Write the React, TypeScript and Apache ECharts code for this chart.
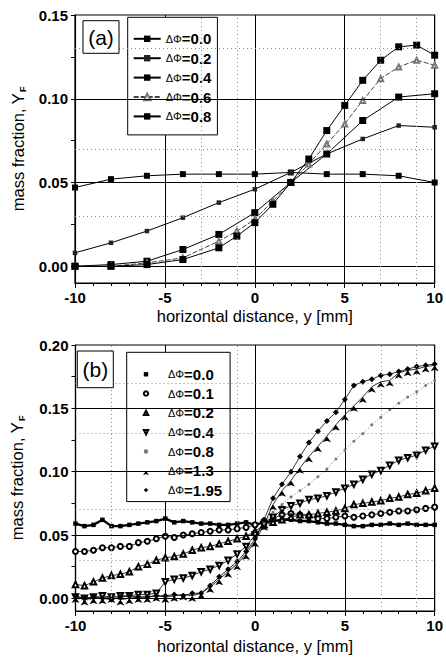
import React, { useEffect, useRef } from 'react';
import * as echarts from 'echarts';

// ---------- panel (a) ----------
const xA = [-10, -8, -6, -4, -2, 0, 2, 4, 6, 8, 10];
const xA2 = [-10, -8, -6, -4, -2, -1, 0, 1, 2, 3, 4, 5, 6, 7, 8, 9, 10];
const a00 = [0.047, 0.052, 0.054, 0.055, 0.055, 0.055, 0.056, 0.055, 0.055, 0.054, 0.050];
const a02 = [0.008, 0.014, 0.021, 0.029, 0.038, 0.046, 0.056, 0.067, 0.076, 0.084, 0.083];
const a04 = [0.000, 0.001, 0.003, 0.010, 0.019, 0.032, 0.050, 0.067, 0.087, 0.101, 0.103];
const a06 = [0.000, 0.000, 0.002, 0.005, 0.015, 0.021, 0.028, 0.039, 0.050, 0.061, 0.073, 0.085, 0.099, 0.112, 0.119, 0.123, 0.120];
const a08 = [0.000, 0.000, 0.001, 0.004, 0.011, 0.018, 0.026, 0.037, 0.050, 0.064, 0.081, 0.096, 0.111, 0.123, 0.131, 0.132, 0.126];
const labelsA = ['0.0', '0.2', '0.4', '0.6', '0.8'];

// ---------- panel (b) ----------
const xB = [-10, -9.5, -9, -8.5, -8, -7.5, -7, -6.5, -6, -5.5, -5, -4.5, -4, -3.5, -3, -2.5, -2, -1.5, -1, -0.5, 0, 0.5, 1, 1.5, 2, 2.5, 3, 3.5, 4, 4.5, 5, 5.5, 6, 6.5, 7, 7.5, 8, 8.5, 9, 9.5, 10];
const b00 = [0.059, 0.057, 0.058, 0.062, 0.057, 0.057, 0.058, 0.059, 0.060, 0.061, 0.063, 0.060, 0.061, 0.060, 0.059, 0.059, 0.058, 0.058, 0.059, 0.060, 0.058, 0.060, 0.061, 0.062, 0.062, 0.061, 0.061, 0.060, 0.059, 0.059, 0.058, 0.057, 0.057, 0.058, 0.058, 0.059, 0.058, 0.059, 0.058, 0.058, 0.058];
const b01 = [0.037, 0.037, 0.038, 0.040, 0.040, 0.041, 0.041, 0.044, 0.045, 0.047, 0.049, 0.048, 0.050, 0.051, 0.052, 0.053, 0.054, 0.054, 0.055, 0.056, 0.058, 0.061, 0.063, 0.066, 0.067, 0.066, 0.065, 0.063, 0.063, 0.064, 0.065, 0.064, 0.065, 0.066, 0.067, 0.068, 0.069, 0.069, 0.070, 0.071, 0.072];
const b02 = [0.011, 0.010, 0.013, 0.016, 0.018, 0.019, 0.021, 0.025, 0.027, 0.030, 0.032, 0.033, 0.035, 0.038, 0.040, 0.041, 0.043, 0.045, 0.047, 0.049, 0.053, 0.058, 0.060, 0.062, 0.064, 0.066, 0.066, 0.067, 0.068, 0.069, 0.071, 0.074, 0.075, 0.076, 0.077, 0.079, 0.080, 0.082, 0.083, 0.085, 0.087];
const b04 = [0.001, 0.000, 0.001, 0.002, 0.001, 0.002, 0.002, 0.003, 0.003, 0.004, 0.013, 0.015, 0.016, 0.018, 0.021, 0.023, 0.026, 0.030, 0.035, 0.041, 0.050, 0.058, 0.064, 0.070, 0.073, 0.075, 0.078, 0.079, 0.081, 0.084, 0.087, 0.090, 0.094, 0.098, 0.101, 0.105, 0.109, 0.111, 0.113, 0.117, 0.120];
const b08 = [0.000, -0.002, 0.000, 0.001, 0.000, 0.001, 0.001, 0.001, 0.002, 0.002, 0.002, 0.002, 0.003, 0.003, 0.005, 0.011, 0.016, 0.022, 0.028, 0.036, 0.046, 0.060, 0.068, 0.074, 0.080, 0.085, 0.090, 0.096, 0.102, 0.110, 0.117, 0.124, 0.130, 0.137, 0.143, 0.149, 0.154, 0.159, 0.163, 0.168, 0.172];
const b13 = [0.001, -0.001, 0.000, 0.000, 0.001, -0.001, 0.000, 0.001, 0.001, 0.002, 0.001, 0.002, 0.003, 0.002, 0.004, 0.009, 0.015, 0.021, 0.027, 0.035, 0.045, 0.058, 0.074, 0.085, 0.093, 0.103, 0.112, 0.120, 0.128, 0.137, 0.145, 0.152, 0.159, 0.167, 0.171, 0.172, 0.178, 0.180, 0.181, 0.183, 0.184];
const b195 = [0.002, 0.000, 0.001, 0.000, -0.001, 0.001, 0.002, 0.001, 0.001, 0.002, 0.002, 0.003, 0.002, 0.004, 0.004, 0.010, 0.017, 0.023, 0.029, 0.037, 0.047, 0.062, 0.079, 0.090, 0.100, 0.112, 0.123, 0.132, 0.140, 0.147, 0.157, 0.168, 0.171, 0.173, 0.176, 0.177, 0.179, 0.181, 0.183, 0.184, 0.185];
const labelsB = ['0.0', '0.1', '0.2', '0.4', '0.8', '1.3', '1.95'];

// ---------- axes ticks / grid ----------
const yLabelsA = [0, 0.05, 0.1, 0.15];
const yTicksA = [0, 0.025, 0.05, 0.075, 0.1, 0.125, 0.15];
const yGridA = [0, 0.05, 0.1];
const yDotA = [0.025, 0.075, 0.125];
const xDotA = [-3, -1, 7, 9];
const yLabelsB = [0, 0.05, 0.1, 0.15, 0.2];
const yTicksB = [0, 0.025, 0.05, 0.075, 0.1, 0.125, 0.15, 0.175, 0.2];
const yGridB = [0, 0.05, 0.1, 0.15];
const yDotB = [0.025, 0.075, 0.125, 0.175];
const xDotB = [-8, -1, 7, 9];

const FONT = '"Liberation Sans", Arial, Helvetica, sans-serif';

function pairs(xs: number[], ys: number[]) {
  return xs.map((x, i) => [x, ys[i]]);
}

function gridMarks(yGrid: number[], yDot: number[], xDot: number[]) {
  const solid = { color: '#000', width: 1, type: 'solid' };
  const dotted = { color: '#888', width: 1, type: [1, 3] };
  return {
    silent: true,
    symbol: ['none', 'none'],
    label: { show: false },
    animation: false,
    data: [
      ...yGrid.map((v) => ({ yAxis: v, lineStyle: solid })),
      ...yDot.map((v) => ({ yAxis: v, lineStyle: dotted })),
      ...xDot.map((v) => ({ xAxis: v, lineStyle: dotted })),
    ],
  };
}

function xAxisCfg(gridIndex: number, nameGap: number) {
  return {
    type: 'value',
    gridIndex,
    min: -10,
    max: 10,
    interval: 5,
    name: 'horizontal distance, y [mm]',
    nameLocation: 'middle',
    nameGap,
    nameTextStyle: { fontFamily: FONT, fontSize: 16.5, color: '#000' },
    axisLine: { show: true, onZero: false, lineStyle: { color: '#000', width: 1.2 } },
    axisTick: { show: true, inside: false, length: 5, lineStyle: { color: '#000', width: 1 } },
    minorTick: { show: true, splitNumber: 5, length: 3, lineStyle: { color: '#000', width: 1 } },
    axisLabel: { fontFamily: FONT, fontSize: 15, fontWeight: 'bold', color: '#000', margin: 7 },
    splitLine: { show: true, lineStyle: { color: '#000', width: 1 } },
  };
}

function yAxisCfg(gridIndex: number, max: number, labels: number[], ticks: number[], nameGap: number) {
  return {
    type: 'value',
    gridIndex,
    min: -0.01,
    max,
    name: '{a|mass fraction, Y}{s|F}',
    nameLocation: 'middle',
    nameGap,
    nameTextStyle: {
      fontFamily: FONT,
      color: '#000',
      rich: {
        a: { fontFamily: FONT, fontSize: 16.5, color: '#000', lineHeight: 20 },
        s: { fontFamily: FONT, fontSize: 9, fontWeight: 'bold', color: '#000', lineHeight: 20, verticalAlign: 'bottom', padding: [0, 0, 0, 1] },
      },
    },
    axisLine: { show: true, onZero: false, lineStyle: { color: '#000', width: 1.2 } },
    axisTick: { show: true, inside: false, length: 4, customValues: ticks, lineStyle: { color: '#000', width: 1 } },
    axisLabel: {
      customValues: labels,
      formatter: (v: number) => v.toFixed(2),
      fontFamily: FONT,
      fontSize: 15,
      fontWeight: 'bold',
      color: '#000',
      margin: 7,
    },
    splitLine: { show: false },
  };
}

const legendFormatter = (name: string) => `{g|ΔΦ}{n|=${name.slice(2)}}`;
const legendText = () => ({
  fontFamily: FONT,
  color: '#000',
  fontSize: 15,
  lineHeight: 15,
  rich: {
    g: { fontFamily: FONT, fontSize: 11, color: '#000', lineHeight: 15 },
    n: { fontFamily: FONT, fontSize: 15, fontWeight: 'bold', color: '#000', lineHeight: 15 },
  },
});

export default function App() {
  const ref = useRef<HTMLDivElement>(null);

  useEffect(() => {
    if (!ref.current) return;
    const chart = echarts.init(ref.current, null, { renderer: 'svg' });

    const black = '#000';
    const thin = (extra: any = {}) => ({ color: black, width: 1, ...extra });

    const seriesA: any[] = [
      {
        name: 'A 0.0', type: 'line', xAxisIndex: 0, yAxisIndex: 0, data: pairs(xA, a00),
        symbol: 'rect', symbolSize: 6, itemStyle: { color: black }, lineStyle: thin(),
        markLine: gridMarks(yGridA, yDotA, xDotA),
      },
      {
        name: 'A 0.2', type: 'line', xAxisIndex: 0, yAxisIndex: 0, data: pairs(xA, a02),
        symbol: 'rect', symbolSize: 4.5, itemStyle: { color: '#222' }, lineStyle: thin(),
      },
      {
        name: 'A 0.4', type: 'line', xAxisIndex: 0, yAxisIndex: 0, data: pairs(xA, a04),
        symbol: 'rect', symbolSize: 7, itemStyle: { color: black }, lineStyle: thin(),
      },
      {
        name: 'A 0.6', type: 'line', xAxisIndex: 0, yAxisIndex: 0, data: pairs(xA2, a06),
        symbol: 'emptyTriangle', symbolSize: 5, itemStyle: { color: '#777' }, lineStyle: thin({ color: '#444', type: [5, 2] }),
      },
      {
        name: 'A 0.8', type: 'line', xAxisIndex: 0, yAxisIndex: 0, data: pairs(xA2, a08),
        symbol: 'rect', symbolSize: 7, itemStyle: { color: black }, lineStyle: thin(),
      },
    ];

    const seriesB: any[] = [
      {
        name: 'B 0.0', type: 'line', xAxisIndex: 1, yAxisIndex: 1, data: pairs(xB, b00),
        symbol: 'rect', symbolSize: 4.5, itemStyle: { color: black }, lineStyle: thin({ width: 2.4 }),
        markLine: gridMarks(yGridB, yDotB, xDotB),
      },
      {
        name: 'B 0.1', type: 'line', xAxisIndex: 1, yAxisIndex: 1, data: pairs(xB, b01),
        symbol: 'emptyCircle', symbolSize: 5, itemStyle: { color: black, borderWidth: 1 }, lineStyle: thin({ width: 0.8 }),
      },
      {
        name: 'B 0.2', type: 'line', xAxisIndex: 1, yAxisIndex: 1, data: pairs(xB, b02),
        symbol: 'emptyTriangle', symbolSize: 5.5, itemStyle: { color: black, borderWidth: 1 }, lineStyle: thin({ width: 0.8 }),
      },
      {
        name: 'B 0.4', type: 'line', xAxisIndex: 1, yAxisIndex: 1, data: pairs(xB, b04),
        symbol: 'emptyTriangle', symbolRotate: 180, symbolSize: 5.5, itemStyle: { color: black, borderWidth: 1 }, lineStyle: thin({ width: 0.8 }),
      },
      {
        name: 'B 0.8', type: 'line', xAxisIndex: 1, yAxisIndex: 1, data: pairs(xB, b08),
        symbol: 'circle', symbolSize: 3, itemStyle: { color: '#777' }, lineStyle: thin({ color: '#777', type: [1, 2] }),
      },
      {
        name: 'B 1.3', type: 'line', xAxisIndex: 1, yAxisIndex: 1, data: pairs(xB, b13),
        symbol: 'arrow', symbolSize: 6, itemStyle: { color: black }, lineStyle: thin({ width: 0.8 }),
      },
      {
        name: 'B 1.95', type: 'line', xAxisIndex: 1, yAxisIndex: 1, data: pairs(xB, b195),
        symbol: 'diamond', symbolSize: 6, itemStyle: { color: black }, lineStyle: thin({ width: 0.8 }),
      },
    ];

    const option: any = {
      animation: false,
      backgroundColor: '#fff',
      textStyle: { fontFamily: FONT },
      grid: [
        { left: 75, top: 15, width: 362, height: 268, show: true, borderColor: '#000', borderWidth: 1.2, backgroundColor: 'transparent', containLabel: false },
        { left: 71, top: 345, width: 364, height: 266, show: true, borderColor: '#000', borderWidth: 1.2, backgroundColor: 'transparent', containLabel: false },
      ],
      xAxis: [xAxisCfg(0, 24), xAxisCfg(1, 26)],
      yAxis: [
        yAxisCfg(0, 0.15, yLabelsA, yTicksA, 46),
        yAxisCfg(1, 0.2, yLabelsB, yTicksB, 49),
      ],
      legend: [
        {
          data: labelsA.map((l) => 'A ' + l),
          orient: 'vertical',
          left: 127.7,
          top: 17.3,
          padding: [14, 6, 11, 5],
          itemGap: 4.4,
          itemWidth: 27,
          itemHeight: 8,
          borderColor: '#000',
          borderWidth: 1,
          backgroundColor: '#fff',
          selectedMode: false,
          formatter: legendFormatter,
          textStyle: legendText(),
        },
        {
          data: labelsB.map((l) => 'B ' + l),
          orient: 'vertical',
          left: 126.7,
          top: 352.3,
          padding: [14.5, 8, 4, 1.3],
          itemGap: 4.3,
          itemWidth: 34,
          itemHeight: 5.5,
          borderColor: '#000',
          borderWidth: 1,
          backgroundColor: '#fff',
          selectedMode: false,
          lineStyle: { opacity: 0 },
          formatter: legendFormatter,
          textStyle: legendText(),
        },
      ],
      graphic: [
        { type: 'rect', z: 100, shape: { x: 83, y: 20.7, width: 36, height: 32.6 }, style: { fill: '#fff', stroke: '#000', lineWidth: 1 } },
        { type: 'text', z: 101, x: 101, y: 37.5, style: { text: '(a)', fill: '#000', font: `21px ${FONT}`, align: 'center', verticalAlign: 'middle' } },
        { type: 'rect', z: 100, shape: { x: 77.3, y: 351, width: 36, height: 36.7 }, style: { fill: '#fff', stroke: '#000', lineWidth: 1 } },
        { type: 'text', z: 101, x: 95.3, y: 369.5, style: { text: '(b)', fill: '#000', font: `21px ${FONT}`, align: 'center', verticalAlign: 'middle' } },
      ],
      series: [...seriesA, ...seriesB],
    };

    chart.setOption(option);
    return () => {
      chart.dispose();
    };
  }, []);

  return (
    <div
      ref={ref}
      style={{ position: 'absolute', left: 0, top: 0, width: 446, height: 658, background: '#fff' }}
    />
  );
}
